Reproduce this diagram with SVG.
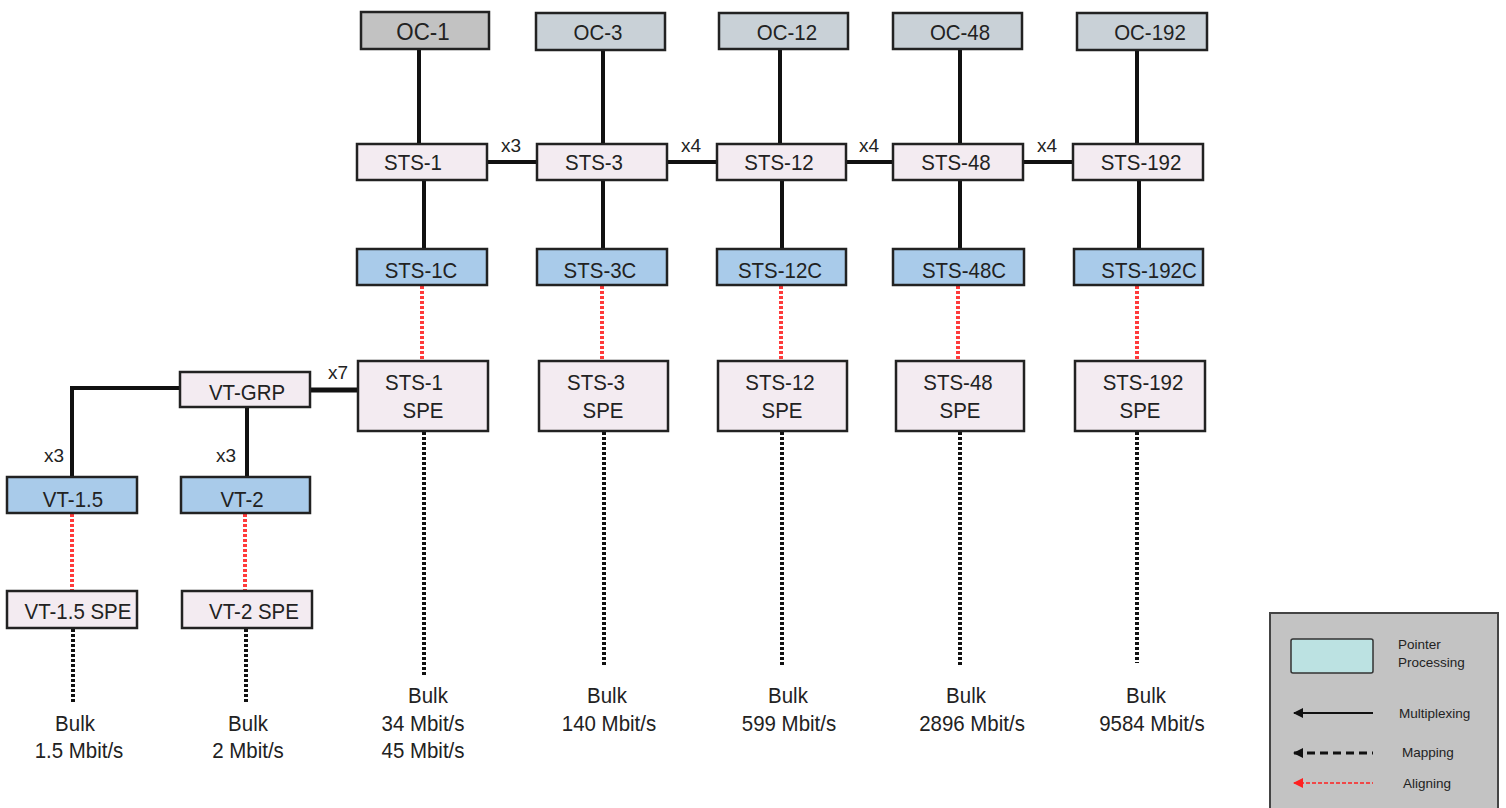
<svg xmlns="http://www.w3.org/2000/svg" width="1506" height="808" viewBox="0 0 1506 808">
<defs>
<style>
.box{stroke:#222;stroke-width:2.5}
.oc1{fill:#c2c2c2}
.oc{fill:#c9d1d7}
.sts{fill:#f3ebf1}
.blue{fill:#a9cbea}
.t{font-family:"Liberation Sans",Arial,sans-serif;font-size:22px;fill:#222;text-anchor:middle;transform-box:fill-box;transform-origin:center;transform:scaleX(0.93)}
.lbl{font-family:"Liberation Sans",Arial,sans-serif;font-size:19px;fill:#222;text-anchor:middle}
.lg{font-family:"Liberation Sans",Arial,sans-serif;font-size:13.5px;fill:#222}
.solid{stroke:#111;stroke-width:4;fill:none}
.red{stroke:#ff3b3b;stroke-width:4;stroke-dasharray:3 2;fill:none}
.dot{stroke:#111;stroke-width:4;stroke-dasharray:3 2;fill:none}
</style>
<marker id="ab" markerWidth="10" markerHeight="10" refX="1" refY="5" orient="auto" markerUnits="userSpaceOnUse"><path d="M10,0 L0,5 L10,10 Z" fill="#111"/></marker>
<marker id="ar" markerWidth="10" markerHeight="10" refX="1" refY="5" orient="auto" markerUnits="userSpaceOnUse"><path d="M10,0 L0,5 L10,10 Z" fill="#ff2020"/></marker>
</defs>
<rect width="1506" height="808" fill="#fff"/>

<g id="connectors">
<line class="solid" x1="419" y1="49" x2="419" y2="144"/>
<line class="solid" x1="603" y1="50" x2="603" y2="144"/>
<line class="solid" x1="780" y1="49" x2="780" y2="144"/>
<line class="solid" x1="960" y1="49" x2="960" y2="144"/>
<line class="solid" x1="1137" y1="50" x2="1137" y2="144"/>
<line class="solid" x1="424" y1="180" x2="424" y2="249"/>
<line class="solid" x1="603" y1="180" x2="603" y2="249"/>
<line class="solid" x1="782" y1="180" x2="782" y2="249"/>
<line class="solid" x1="960" y1="180" x2="960" y2="249"/>
<line class="solid" x1="1139" y1="180" x2="1139" y2="249"/>
<line class="solid" x1="487" y1="162" x2="537" y2="162"/>
<line class="solid" x1="667" y1="162" x2="717" y2="162"/>
<line class="solid" x1="846" y1="162" x2="893" y2="162"/>
<line class="solid" x1="1023" y1="162" x2="1073" y2="162"/>
<line class="red" x1="422" y1="286" x2="422" y2="361"/>
<line class="red" x1="602" y1="286" x2="602" y2="361"/>
<line class="red" x1="781" y1="286" x2="781" y2="361"/>
<line class="red" x1="958" y1="286" x2="958" y2="361"/>
<line class="red" x1="1137" y1="286" x2="1137" y2="361"/>
<line class="dot" x1="424" y1="432" x2="424" y2="676"/>
<line class="dot" x1="604" y1="432" x2="604" y2="667"/>
<line class="dot" x1="782" y1="432" x2="782" y2="667"/>
<line class="dot" x1="960" y1="432" x2="960" y2="665"/>
<line class="dot" x1="1137" y1="432" x2="1137" y2="663"/>
<line class="solid" x1="310" y1="390" x2="358" y2="390" style="stroke-width:5"/>
<polyline class="solid" points="180,388 72,388 72,477"/>
<line class="solid" x1="247" y1="407" x2="247" y2="477"/>
<line class="red" x1="72" y1="514" x2="72" y2="591"/>
<line class="red" x1="245" y1="514" x2="245" y2="591"/>
<line class="dot" x1="73" y1="629" x2="73" y2="703"/>
<line class="dot" x1="246" y1="629" x2="246" y2="703"/>
<text class="lbl" x="511" y="152">x3</text>
<text class="lbl" x="691" y="152">x4</text>
<text class="lbl" x="869" y="152">x4</text>
<text class="lbl" x="1047" y="152">x4</text>
<text class="lbl" x="338" y="379">x7</text>
<text class="lbl" x="54" y="462">x3</text>
<text class="lbl" x="226" y="462">x3</text>
</g>

<g id="oc1"><rect class="box oc1" x="361" y="12" width="128" height="37"/><text class="t" x="423" y="40" style="font-size:24px">OC-1</text></g>
<g id="oc3"><rect class="box oc" x="536" y="13" width="129" height="37"/><text class="t" x="598" y="40">OC-3</text></g>
<g id="oc12"><rect class="box oc" x="719" y="13" width="129" height="36"/><text class="t" x="787" y="40">OC-12</text></g>
<g id="oc48"><rect class="box oc" x="893" y="13" width="129" height="36"/><text class="t" x="960" y="40">OC-48</text></g>
<g id="oc192"><rect class="box oc" x="1077" y="13" width="130" height="37"/><text class="t" x="1150" y="40">OC-192</text></g>

<g id="sts1"><rect class="box sts" x="357" y="144" width="130" height="36"/><text class="t" x="413" y="170">STS-1</text></g>
<g id="sts3"><rect class="box sts" x="537" y="144" width="130" height="36"/><text class="t" x="594" y="170">STS-3</text></g>
<g id="sts12"><rect class="box sts" x="717" y="144" width="129" height="36"/><text class="t" x="779" y="170">STS-12</text></g>
<g id="sts48"><rect class="box sts" x="893" y="144" width="130" height="36"/><text class="t" x="956" y="170">STS-48</text></g>
<g id="sts192"><rect class="box sts" x="1073" y="144" width="130" height="36"/><text class="t" x="1141" y="170">STS-192</text></g>

<g id="sts1c"><rect class="box blue" x="357" y="249" width="130" height="36"/><text class="t" x="421" y="278">STS-1C</text></g>
<g id="sts3c"><rect class="box blue" x="537" y="249" width="130" height="36"/><text class="t" x="600" y="278">STS-3C</text></g>
<g id="sts12c"><rect class="box blue" x="717" y="249" width="129" height="36"/><text class="t" x="780" y="278">STS-12C</text></g>
<g id="sts48c"><rect class="box blue" x="893" y="249" width="131" height="36"/><text class="t" x="964" y="278">STS-48C</text></g>
<g id="sts192c"><rect class="box blue" x="1074" y="249" width="129" height="36"/><text class="t" x="1149" y="278">STS-192C</text></g>

<g id="sts1spe"><rect class="box sts" x="358" y="361" width="130" height="70"/><text class="t" x="414" y="390">STS-1</text><text class="t" x="423" y="418">SPE</text></g>
<g id="sts3spe"><rect class="box sts" x="539" y="361" width="129" height="70"/><text class="t" x="596" y="390">STS-3</text><text class="t" x="603" y="418">SPE</text></g>
<g id="sts12spe"><rect class="box sts" x="718" y="361" width="129" height="70"/><text class="t" x="780" y="390">STS-12</text><text class="t" x="782" y="418">SPE</text></g>
<g id="sts48spe"><rect class="box sts" x="896" y="361" width="128" height="70"/><text class="t" x="958" y="390">STS-48</text><text class="t" x="960" y="418">SPE</text></g>
<g id="sts192spe"><rect class="box sts" x="1075" y="361" width="130" height="70"/><text class="t" x="1143" y="390">STS-192</text><text class="t" x="1140" y="418">SPE</text></g>

<g id="vtgrp"><rect class="box sts" x="180" y="372" width="130" height="35"/><text class="t" x="247" y="400">VT-GRP</text></g>
<g id="vt15"><rect class="box blue" x="7" y="477" width="130" height="36"/><text class="t" x="73" y="507">VT-1.5</text></g>
<g id="vt2"><rect class="box blue" x="181" y="477" width="129" height="36"/><text class="t" x="242" y="507">VT-2</text></g>
<g id="vt15spe"><rect class="box sts" x="7" y="591" width="130" height="37"/><text class="t" x="78" y="619">VT-1.5 SPE</text></g>
<g id="vt2spe"><rect class="box sts" x="182" y="591" width="130" height="37"/><text class="t" x="254" y="619">VT-2 SPE</text></g>

<g id="bulk">
<text class="t" x="75" y="731">Bulk</text><text class="t" x="79" y="758">1.5 Mbit/s</text>
<text class="t" x="248" y="731">Bulk</text><text class="t" x="248" y="758">2 Mbit/s</text>
<text class="t" x="428" y="703">Bulk</text><text class="t" x="423" y="731">34 Mbit/s</text><text class="t" x="423" y="758">45 Mbit/s</text>
<text class="t" x="607" y="703">Bulk</text><text class="t" x="609" y="731">140 Mbit/s</text>
<text class="t" x="788" y="703">Bulk</text><text class="t" x="789" y="731">599 Mbit/s</text>
<text class="t" x="966" y="703">Bulk</text><text class="t" x="972" y="731">2896 Mbit/s</text>
<text class="t" x="1146" y="703">Bulk</text><text class="t" x="1152" y="731">9584 Mbit/s</text>
</g>

<g id="legend">
<rect x="1270" y="613" width="228" height="210" fill="#c3c3c3" stroke="#444" stroke-width="2"/>
<rect x="1291" y="639" width="82" height="34" rx="2" fill="#bce2e2" stroke="#333" stroke-width="1.5"/>
<text class="lg" x="1398" y="649">Pointer</text>
<text class="lg" x="1398" y="667">Processing</text>
<line x1="1294" y1="713" x2="1373" y2="713" stroke="#111" stroke-width="2" marker-start="url(#ab)"/>
<text class="lg" x="1399" y="718">Multiplexing</text>
<line x1="1294" y1="753" x2="1373" y2="753" stroke="#111" stroke-width="3" stroke-dasharray="8 5" marker-start="url(#ab)"/>
<text class="lg" x="1402" y="757">Mapping</text>
<line x1="1294" y1="783" x2="1373" y2="783" stroke="#ff2020" stroke-width="1.5" stroke-dasharray="4 2" marker-start="url(#ar)"/>
<text class="lg" x="1403" y="788">Aligning</text>
</g>
</svg>
